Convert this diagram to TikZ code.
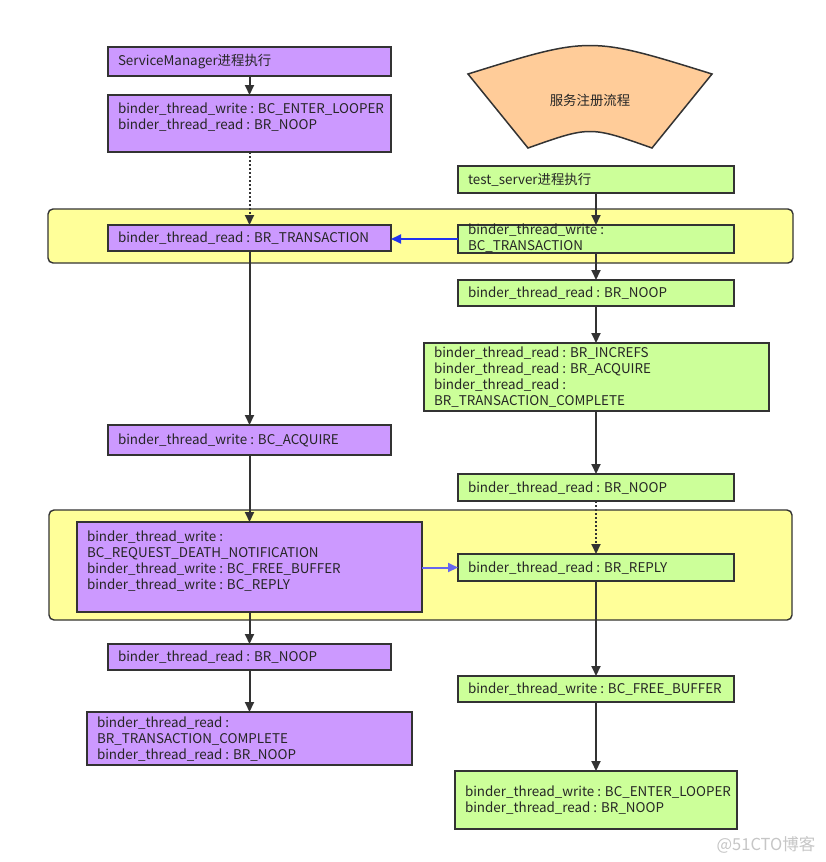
\documentclass[tikz,border=0pt]{standalone}
\usepackage{fontspec}
\setmainfont{Noto Sans CJK SC}
\usetikzlibrary{arrows.meta}
\definecolor{pur}{HTML}{CC99FF}
\definecolor{grn}{HTML}{CCFF99}
\definecolor{yel}{HTML}{FFFF99}
\definecolor{org}{HTML}{FFCC99}
\definecolor{edgec}{HTML}{333333}
\definecolor{blueA}{HTML}{2233EE}
\definecolor{blueB}{HTML}{6666EE}
\newcommand{\bx}[6]{\node[boxst,#6,minimum width={(#4-#2)*1pt},minimum height={(#5-#3)*1pt}] (#1) at ({(#2+#4)/2},{(#3+#5)/2}) {};}
\begin{document}
\begin{tikzpicture}[x=1pt,y=-1pt,
  boxst/.style={draw=edgec,line width=1.8pt,inner sep=0pt,outer sep=0pt,rectangle},
  grp/.style={draw=edgec,line width=1.4pt,fill=yel,rounded corners=5pt,inner sep=0pt,outer sep=0pt,rectangle},
  txt/.style={inner sep=0pt,outer sep=0pt,text=black!85,font=\fontsize{13.4}{16}\selectfont},
  arr/.style={draw=edgec,line width=2pt,-{Triangle[length=10pt,width=9pt]}},
  dotarr/.style={arr,dash pattern=on 2pt off 2pt},
  barr/.style={line width=2pt,-{Triangle[length=10pt,width=9pt]}}
]
\fill[white] (0,0) rectangle (825,862);
\useasboundingbox (0,0) rectangle (825,862);

% groups
\node[grp,minimum width=745pt,minimum height=54pt] (G1) at (420.5,236) {};
\node[grp,minimum width=743pt,minimum height=110pt] (G2) at (420.5,565) {};

% left column
\bx{SM1}{108}{47}{391}{76}{fill=pur}
\bx{SM2}{108}{95}{391}{152}{fill=pur}
\bx{SM3}{108}{225}{391}{251}{fill=pur}
\bx{SM4}{108}{425}{391}{455}{fill=pur}
\bx{SM5}{77}{522}{422}{612}{fill=pur}
\bx{SM6}{108}{644}{391}{670}{fill=pur}
\bx{SM7}{87}{712}{412}{765}{fill=pur}

% right column
\draw[fill=org,draw=edgec,line width=1.5pt] (468,74) .. controls (590,36) .. (712,74) -- (652,148) .. controls (590,126) .. (528,148) -- cycle;
\node[txt] (SEC) at (590,100) {服务注册流程};
\bx{T1}{458}{166}{734}{193}{fill=grn}
\bx{T2}{458}{225}{734}{253}{fill=grn}
\bx{T3}{458}{280}{734}{306}{fill=grn}
\bx{T4}{424}{343}{769}{411}{fill=grn}
\bx{T5}{458}{474}{734}{501}{fill=grn}
\bx{T6}{458}{554}{734}{581}{fill=grn}
\bx{T7}{458}{676}{734}{702}{fill=grn}
\bx{T8}{455}{771}{737}{829}{fill=grn}

% texts
\node[txt,anchor=west] (SM1t) at (118,62) {ServiceManager进程执行};
\node[txt,anchor=north west,align=left] (SM2t) at (118,103) {binder\_thread\_write : BC\_ENTER\_LOOPER\\binder\_thread\_read : BR\_NOOP};
\node[txt,anchor=west] (SM3t) at (118,238) {binder\_thread\_read : BR\_TRANSACTION};
\node[txt,anchor=west] (SM4t) at (118,440) {binder\_thread\_write : BC\_ACQUIRE};
\node[txt,anchor=north west,align=left] (SM5t) at (87,531) {binder\_thread\_write :\\BC\_REQUEST\_DEATH\_NOTIFICATION\\binder\_thread\_write : BC\_FREE\_BUFFER\\binder\_thread\_write : BC\_REPLY};
\node[txt,anchor=west] (SM6t) at (118,657) {binder\_thread\_read : BR\_NOOP};
\node[txt,anchor=north west,align=left] (SM7t) at (97,717) {binder\_thread\_read :\\BR\_TRANSACTION\_COMPLETE\\binder\_thread\_read : BR\_NOOP};

\node[txt,anchor=west] (T1t) at (468,180) {test\_server进程执行};
\node[txt,anchor=north west,align=left] (T2t) at (468,224) {binder\_thread\_write :\\BC\_TRANSACTION};
\node[txt,anchor=west] (T3t) at (468,293) {binder\_thread\_read : BR\_NOOP};
\node[txt,anchor=north west,align=left] (T4t) at (434,347) {binder\_thread\_read : BR\_INCREFS\\binder\_thread\_read : BR\_ACQUIRE\\binder\_thread\_read :\\BR\_TRANSACTION\_COMPLETE};
\node[txt,anchor=west] (T5t) at (468,488) {binder\_thread\_read : BR\_NOOP};
\node[txt,anchor=west] (T6t) at (468,568) {binder\_thread\_read : BR\_REPLY};
\node[txt,anchor=west] (T7t) at (468,689) {binder\_thread\_write : BC\_FREE\_BUFFER};
\node[txt,anchor=north west,align=left] (T8t) at (465,786) {binder\_thread\_write : BC\_ENTER\_LOOPER\\binder\_thread\_read : BR\_NOOP};

% connectors left
\draw[arr] (SM1.south) -- (SM2.north -| SM1.south);
\draw[dotarr] (SM2.south) -- (SM3.north -| SM2.south);
\draw[arr] (SM3.south) -- (SM4.north -| SM3.south);
\draw[arr] (SM4.south) -- (SM5.north -| SM4.south);
\draw[arr] (SM5.south -| SM6.north) -- (SM6.north);
\draw[arr] (SM6.south) -- (SM7.north -| SM6.south);

% connectors right
\draw[arr] (T1.south) -- (T2.north -| T1.south);
\draw[arr] (T2.south) -- (T3.north -| T2.south);
\draw[arr] (T3.south) -- (T4.north -| T3.south);
\draw[arr] (T4.south -| T5.north) -- (T5.north);
\draw[dotarr] (T5.south) -- (T6.north -| T5.south);
\draw[arr] (T6.south) -- (T7.north -| T6.south);
\draw[arr] (T7.south) -- (T8.north -| T7.south);

% cross arrows
\draw[barr,draw=blueA,-{Triangle[length=10pt,width=9pt,fill=blueA]}] (T2.west) -- (T2.west -| SM3.east);
\draw[barr,draw=blueB,-{Triangle[length=10pt,width=9pt,fill=blueB]}] (SM5.east |- T6.west) -- (T6.west);

\node[text=gray!45,inner sep=0pt,font=\fontsize{16.5}{18}\selectfont] (WM) at (766,845) {@51CTO博客};
\end{tikzpicture}
\end{document}
